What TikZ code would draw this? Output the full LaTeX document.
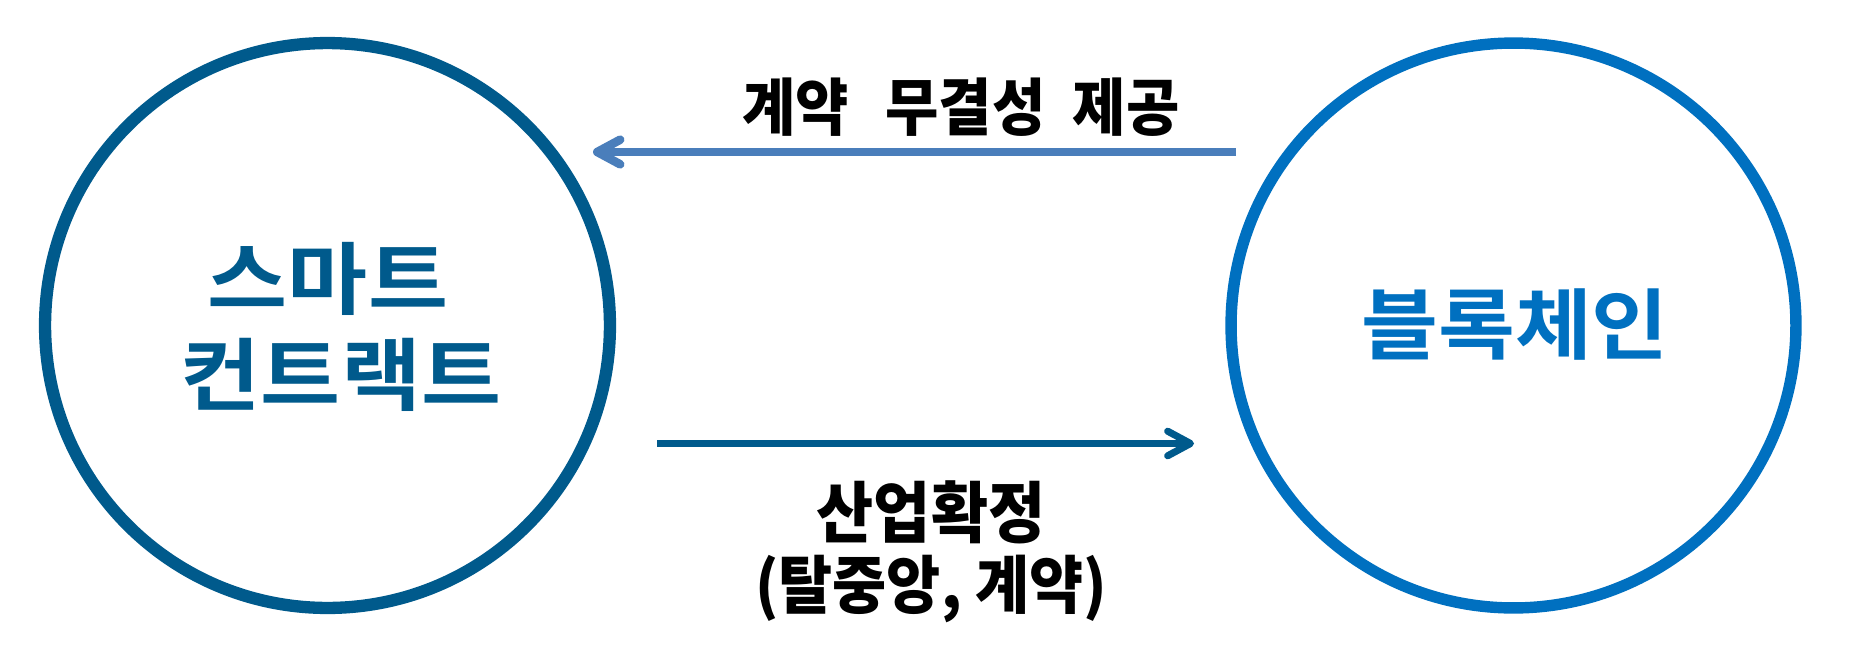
\documentclass[tikz,border=0pt]{standalone}
\usepackage{fontspec}
\newfontfamily\krbold[FakeStretch=1.1]{Noto Sans CJK KR Bold}
\newfontfamily\krboldwide[FakeStretch=1.08]{Noto Sans CJK KR Bold}
\newfontfamily\krblack[FakeStretch=0.93]{Noto Sans CJK KR Black}
\usetikzlibrary{arrows.meta}
\definecolor{darkblue}{HTML}{005A8C}
\definecolor{brightblue}{HTML}{0070C0}
\definecolor{steelarrow}{HTML}{4A7EBB}
\begin{document}
\begin{tikzpicture}[x=0.02cm,y=-0.02cm,
  ring/.style={circle, draw, minimum size=11.3cm, inner sep=0pt},
  bigtext/.style={font=\krbold\fontsize{45}{50}\selectfont, inner sep=0pt},
  widetext/.style={font=\krboldwide\fontsize{44}{50}\selectfont, inner sep=0pt},
  labeltext/.style={font=\krblack\fontsize{35.5}{40.8}\selectfont, inner sep=0pt, align=center, text=black},
  lowtext/.style={font=\krblack\fontsize{38}{40.8}\selectfont, inner sep=0pt, align=center, text=black},
  flow/.style={-{Straight Barb[length=13pt, width=14pt, round]}}
]
\useasboundingbox (0,0) rectangle (1852,646);
\node[ring, draw=darkblue, line width=7pt] (smart) at (327.5,325.5) {};
\node[ring, draw=brightblue, line width=6.5pt] (chain) at (1513.5,325.5) {};
\node[bigtext, text=darkblue] (smartA) at (328,278.5) {스마트};
\node[bigtext, text=darkblue] (smartB) at (341,375) {컨트랙트};
\node[widetext, text=brightblue] (chainT) at (1515,325) {블록체인};

\coordinate (topStart) at (1236,152);
\coordinate (topEnd) at (593,152);
\coordinate (botStart) at (657,443.5);
\coordinate (botEnd) at (1194,443.5);
\draw[flow, draw=steelarrow, line width=4.9pt] (topStart) -- (topEnd);
\draw[flow, draw=darkblue, line width=4pt] (botStart) -- (botEnd);

\node[labeltext] (topLabel) at (961,107) {계약\hspace{13pt} 무결성\hspace{8pt} 제공};
\node[lowtext, anchor=north] (botLabel) at (931,480) {산업확정\\\fontsize{36}{40.8}\selectfont(탈중앙, 계약)};
\end{tikzpicture}
\end{document}
